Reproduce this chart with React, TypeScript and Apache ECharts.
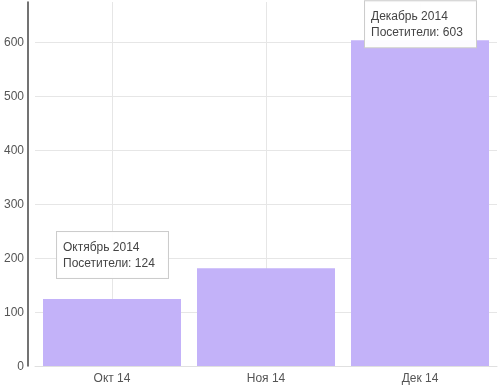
import React, { useEffect, useRef } from "react";
import * as echarts from "echarts";

const categories = ["Окт 14", "Ноя 14", "Дек 14"];
const fullNames = ["Октябрь 2014", "Ноябрь 2014", "Декабрь 2014"];
const visitors = [124, 181, 603];
const seriesName = "Посетители";
const labeledIndices = [0, 2];
const labelDistances = [21, 0, -7];
const yMax = 674;
const yInterval = 100;

const FONT = "Arial, 'Liberation Sans', sans-serif";

export default function App() {
  const ref = useRef<HTMLDivElement>(null);
  useEffect(() => {
    if (!ref.current) return;
    const chart = echarts.init(ref.current, undefined, { renderer: "svg" });
    const splitColors: string[] = [];
    for (let v = 0; v <= yMax; v += yInterval) splitColors.push("#e6e6e6");
    splitColors.push("rgba(0,0,0,0)");
    const data = visitors.map((v, i) => {
      const item: any = { value: v };
      if (labeledIndices.includes(i)) {
        item.label = {
          show: true,
          position: "top",
          distance: labelDistances[i],
          align: "left",
          offset: [-55, 0],
          formatter: () => `${fullNames[i]}\n${seriesName}: ${visitors[i]}`,
          backgroundColor: "rgba(255,255,255,0.95)",
          borderColor: "#cccccc",
          borderWidth: 1,
          padding: [7, 6, 7, 6],
          width: 99,
          lineHeight: 16,
          fontSize: 12,
          fontFamily: FONT,
          color: "#444",
        };
      }
      return item;
    });
    chart.setOption({
      animation: false,
      grid: { left: 35, right: 3, top: 2, bottom: 24 },
      xAxis: {
        type: "category",
        data: categories,
        axisLine: { show: true, lineStyle: { color: "#e0e0e0", width: 1 } },
        axisTick: { show: false },
        axisLabel: { color: "#555", fontSize: 12, fontFamily: FONT, margin: 6 },
        splitLine: {
          show: true,
          alignWithLabel: true,
          lineStyle: { color: "#e6e6e6", width: 1 },
        },
      },
      yAxis: {
        type: "value",
        min: 0,
        max: yMax,
        interval: yInterval,
        offset: 7,
        axisLine: { show: true, lineStyle: { color: "#444", width: 1.5 } },
        axisTick: { show: false },
        axisLabel: {
          color: "#555",
          fontSize: 12,
          fontFamily: FONT,
          margin: 4,
          showMaxLabel: false,
        },
        splitLine: { show: true, lineStyle: { color: splitColors, width: 1 } },
      },
      series: [
        {
          name: seriesName,
          type: "bar",
          data,
          barCategoryGap: "10.4%",
          itemStyle: { color: "#c3b2f9" },
        },
      ],
    });
    return () => chart.dispose();
  }, []);
  return (
    <div
      ref={ref}
      style={{ position: "fixed", left: 0, top: 0, width: 500, height: 390 }}
    />
  );
}
